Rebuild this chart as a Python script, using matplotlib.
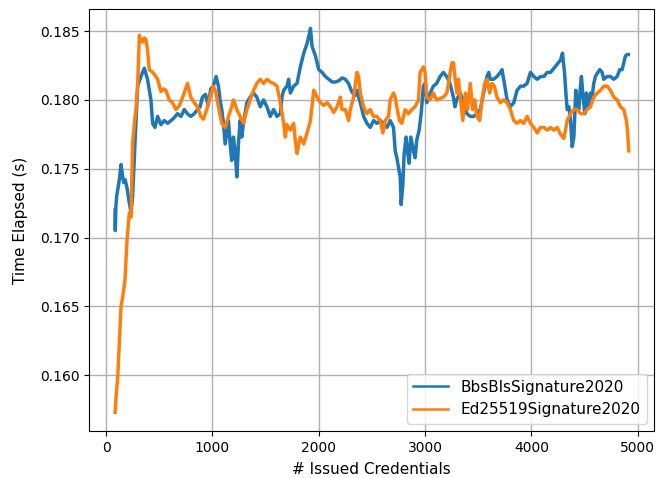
"""Issuance timing: BBS+ vs Ed25519 signatures."""

import matplotlib

matplotlib.use("Agg")
import matplotlib.pyplot as plt

# BbsBlsSignature2020
bbs_x = [
    85, 87, 92, 100, 110, 125, 141, 155, 166, 180, 200, 219, 235, 250, 270, 297,
    328, 360, 390, 422, 438, 460, 485, 516, 547, 580, 610, 640, 672, 705, 735,
    765, 797, 830, 860, 884, 906, 935, 960, 985, 1009, 1035, 1057, 1072, 1088,
    1104, 1120, 1135, 1151, 1167, 1182, 1198, 1214, 1230, 1245, 1261, 1276, 1292,
    1324, 1355, 1387, 1418, 1450, 1481, 1513, 1544, 1576, 1607, 1639, 1654, 1670,
    1701, 1717, 1733, 1764, 1796, 1827, 1859, 1890, 1915, 1922, 1937, 1969, 2000,
    2032, 2063, 2094, 2126, 2157, 2190, 2220, 2250, 2280, 2310, 2340, 2360, 2375,
    2391, 2422, 2453, 2484, 2516, 2547, 2578, 2609, 2641, 2672, 2703, 2719, 2734,
    2750, 2766, 2775, 2791, 2803, 2822, 2834, 2850, 2866, 2891, 2906, 2922, 2944,
    2963, 2984, 3000, 3016, 3047, 3078, 3109, 3141, 3172, 3203, 3234, 3266, 3281,
    3297, 3330, 3362, 3393, 3425, 3456, 3487, 3519, 3550, 3582, 3598, 3613, 3645,
    3676, 3708, 3723, 3739, 3771, 3802, 3834, 3865, 3897, 3928, 3959, 3991, 4022,
    4054, 4085, 4117, 4148, 4180, 4211, 4242, 4274, 4292, 4311, 4324, 4336, 4352,
    4368, 4383, 4399, 4417, 4429, 4445, 4461, 4470, 4486, 4502, 4517, 4539, 4555,
    4571, 4586, 4602, 4624, 4643, 4665, 4680, 4712, 4743, 4774, 4806, 4831, 4853,
    4868, 4884, 4900, 4912,
]
bbs_y = [
    0.1720, 0.1705, 0.1722, 0.1730, 0.1735, 0.1742, 0.1753, 0.1745, 0.1740, 0.1742,
    0.1735, 0.1725, 0.1718, 0.1730, 0.1765, 0.1810, 0.1817, 0.1823, 0.1815, 0.1800,
    0.1783, 0.1780, 0.1788, 0.1782, 0.1785, 0.1783, 0.1785, 0.1787, 0.1790, 0.1788,
    0.1793, 0.1790, 0.1788, 0.1790, 0.1793, 0.1795, 0.1802, 0.1804, 0.1796, 0.1808,
    0.1810, 0.1817, 0.1810, 0.1800, 0.1793, 0.1783, 0.1768, 0.1776, 0.1785, 0.1768,
    0.1756, 0.1773, 0.1763, 0.1744, 0.1768, 0.1785, 0.1773, 0.1783, 0.1798, 0.1802,
    0.1805, 0.1802, 0.1795, 0.1800, 0.1795, 0.1788, 0.1793, 0.1788, 0.1790, 0.1802,
    0.1807, 0.1810, 0.1815, 0.1805, 0.1810, 0.1812, 0.1824, 0.1834, 0.1841, 0.1849,
    0.1852, 0.1839, 0.1832, 0.1822, 0.1820, 0.1817, 0.1815, 0.1813, 0.1813, 0.1814,
    0.1816, 0.1815, 0.1812, 0.1806, 0.1803, 0.1807, 0.1802, 0.1798, 0.1788, 0.1783,
    0.1780, 0.1785, 0.1783, 0.1785, 0.1783, 0.1780, 0.1785, 0.1780, 0.1763, 0.1758,
    0.1751, 0.1744, 0.1724, 0.1739, 0.1761, 0.1773, 0.1763, 0.1754, 0.1773, 0.1763,
    0.1758, 0.1771, 0.1778, 0.1790, 0.1810, 0.1812, 0.1798, 0.1805, 0.1810, 0.1812,
    0.1817, 0.1820, 0.1817, 0.1812, 0.1802, 0.1795, 0.1800, 0.1805, 0.1798, 0.1790,
    0.1788, 0.1788, 0.1790, 0.1793, 0.1805, 0.1817, 0.1820, 0.1815, 0.1815, 0.1817,
    0.1820, 0.1822, 0.1815, 0.1800, 0.1795, 0.1798, 0.1807, 0.1810, 0.1810, 0.1812,
    0.1820, 0.1817, 0.1815, 0.1817, 0.1817, 0.1820, 0.1820, 0.1823, 0.1826, 0.1829,
    0.1834, 0.1820, 0.1805, 0.1793, 0.1795, 0.1785, 0.1766, 0.1773, 0.1807, 0.1798,
    0.1793, 0.1810, 0.1817, 0.1802, 0.1790, 0.1805, 0.1795, 0.1805, 0.1802, 0.1812,
    0.1817, 0.1820, 0.1822, 0.1820, 0.1815, 0.1817, 0.1817, 0.1815, 0.1817, 0.1822,
    0.1822, 0.1827, 0.1832, 0.1833, 0.1833,
]

# Ed25519Signature2020
ed_x = [
    85, 95, 110, 125, 141, 155, 166, 178, 197, 219, 235, 250, 266, 281, 297, 313,
    328, 344, 360, 375, 391, 406, 422, 438, 460, 485, 516, 540, 563, 594, 625,
    656, 690, 735, 766, 797, 830, 860, 891, 915, 947, 978, 1009, 1030, 1057, 1088,
    1120, 1151, 1182, 1198, 1230, 1261, 1292, 1324, 1355, 1387, 1418, 1450, 1481,
    1513, 1544, 1576, 1607, 1639, 1670, 1686, 1700, 1717, 1733, 1764, 1780, 1796,
    1812, 1827, 1859, 1890, 1922, 1953, 1985, 2016, 2047, 2079, 2110, 2141, 2172,
    2203, 2219, 2250, 2281, 2297, 2328, 2359, 2375, 2391, 2422, 2453, 2484, 2516,
    2547, 2578, 2603, 2625, 2656, 2672, 2703, 2719, 2734, 2759, 2781, 2813, 2844,
    2875, 2906, 2938, 2953, 2969, 2984, 3000, 3016, 3047, 3078, 3109, 3141, 3172,
    3204, 3220, 3236, 3252, 3267, 3283, 3299, 3314, 3336, 3355, 3378, 3399, 3425,
    3447, 3466, 3488, 3513, 3535, 3560, 3582, 3607, 3629, 3651, 3676, 3708, 3739,
    3771, 3802, 3834, 3865, 3897, 3928, 3959, 3991, 4022, 4054, 4085, 4117, 4148,
    4180, 4211, 4242, 4274, 4305, 4320, 4336, 4367, 4398, 4429, 4461, 4492, 4524,
    4555, 4586, 4618, 4649, 4680, 4712, 4743, 4774, 4806, 4837, 4868, 4893, 4905,
    4915,
]
ed_y = [
    0.1573, 0.1585, 0.1599, 0.1623, 0.1650, 0.1656, 0.1662, 0.1669, 0.1698, 0.1718,
    0.1715, 0.1769, 0.1783, 0.1793, 0.1810, 0.1847, 0.1843, 0.1842, 0.1845, 0.1844,
    0.1836, 0.1822, 0.1821, 0.1820, 0.1818, 0.1815, 0.1806, 0.1808, 0.1807, 0.1800,
    0.1798, 0.1793, 0.1796, 0.1805, 0.1812, 0.1802, 0.1798, 0.1795, 0.1788, 0.1786,
    0.1793, 0.1802, 0.1810, 0.1806, 0.1795, 0.1783, 0.1780, 0.1788, 0.1795, 0.1800,
    0.1793, 0.1788, 0.1783, 0.1793, 0.1800, 0.1807, 0.1812, 0.1815, 0.1812, 0.1815,
    0.1813, 0.1812, 0.1810, 0.1798, 0.1783, 0.1773, 0.1782, 0.1780, 0.1778, 0.1783,
    0.1770, 0.1761, 0.1768, 0.1773, 0.1768, 0.1776, 0.1785, 0.1807, 0.1802, 0.1798,
    0.1796, 0.1798, 0.1795, 0.1791, 0.1795, 0.1802, 0.1793, 0.1793, 0.1785, 0.1793,
    0.1802, 0.1820, 0.1817, 0.1805, 0.1795, 0.1790, 0.1793, 0.1788, 0.1788, 0.1785,
    0.1776, 0.1785, 0.1788, 0.1800, 0.1805, 0.1802, 0.1795, 0.1785, 0.1783, 0.1793,
    0.1790, 0.1793, 0.1795, 0.1800, 0.1820, 0.1822, 0.1824, 0.1820, 0.1802, 0.1800,
    0.1805, 0.1800, 0.1801, 0.1802, 0.1805, 0.1812, 0.1820, 0.1827, 0.1827, 0.1815,
    0.1805, 0.1815, 0.1798, 0.1785, 0.1805, 0.1793, 0.1812, 0.1793, 0.1800, 0.1788,
    0.1785, 0.1800, 0.1812, 0.1815, 0.1805, 0.1812, 0.1810, 0.1802, 0.1798, 0.1800,
    0.1798, 0.1793, 0.1785, 0.1783, 0.1785, 0.1783, 0.1788, 0.1783, 0.1780, 0.1776,
    0.1780, 0.1780, 0.1778, 0.1780, 0.1778, 0.1780, 0.1775, 0.1772, 0.1778, 0.1785,
    0.1790, 0.1793, 0.1793, 0.1790, 0.1790, 0.1793, 0.1795, 0.1802, 0.1805, 0.1807,
    0.1810, 0.1810, 0.1807, 0.1802, 0.1800, 0.1795, 0.1793, 0.1785, 0.1776, 0.1763,
]


def main() -> None:
    fig = plt.figure(figsize=(6.57, 4.78), dpi=100)
    ax = fig.add_axes([0.136, 0.098, 0.860, 0.883])

    ax.plot(bbs_x, bbs_y, color="#1f77b4", linewidth=2.5, label="BbsBlsSignature2020")
    ax.plot(ed_x, ed_y, color="#ff7f0e", linewidth=2.5, label="Ed25519Signature2020")

    ax.set_xlim(-157, 5156)
    ax.set_ylim(0.15593, 0.1866)
    ax.set_xticks([0, 1000, 2000, 3000, 4000, 5000])
    ax.set_yticks([0.160, 0.165, 0.170, 0.175, 0.180, 0.185])
    ax.set_xlabel("# Issued Credentials", fontsize=11, labelpad=5)
    ax.set_ylabel("Time Elapsed (s)", fontsize=11, labelpad=9)
    ax.grid(True, color="#b0b0b0", linewidth=1.0)

    leg = ax.legend(loc="lower right", fontsize=11, handlelength=2.3)
    for line in leg.get_lines():
        line.set_linewidth(1.8)

    fig.savefig("out.png", dpi=100)
    plt.close(fig)


if __name__ == "__main__":
    main()
